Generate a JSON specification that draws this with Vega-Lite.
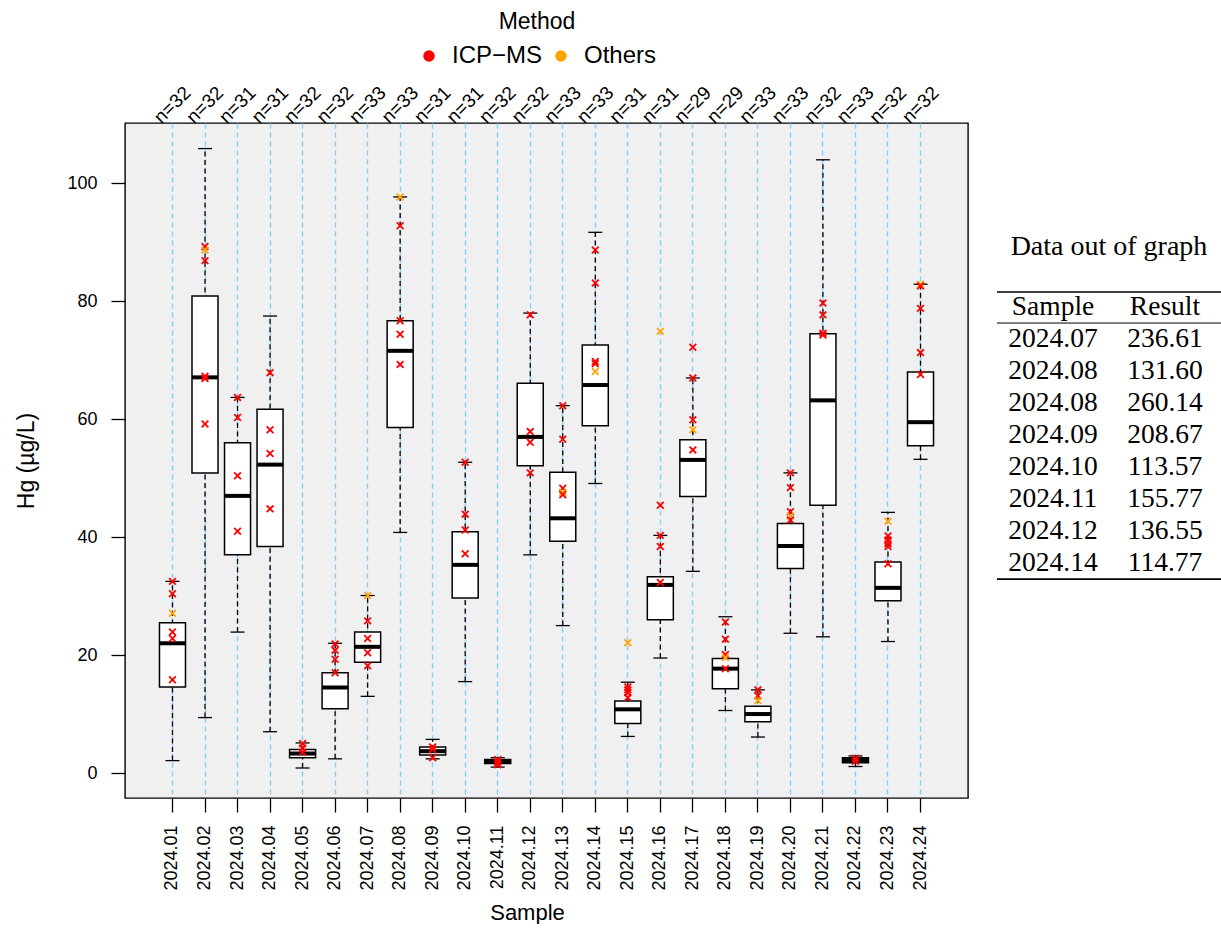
{
  "$schema": "https://vega.github.io/schema/vega-lite/v6.json",
  "background": "white",
  "padding": {"left": 15, "top": 10, "right": 0, "bottom": 0},
  "bounds": "flush",
  "spacing": 29,
  "config": {
    "font": "Liberation Sans",
    "axis": {
      "domain": false,
      "labelColor": "black",
      "titleColor": "black",
      "tickColor": "black",
      "titleFontWeight": "normal",
      "labelFont": "Liberation Sans",
      "titleFont": "Liberation Sans"
    },
    "legend": {
      "orient": "none",
      "legendX": 292,
      "legendY": -112,
      "direction": "horizontal",
      "titleOrient": "top",
      "titleAnchor": "middle",
      "titleFontSize": 23,
      "titleFontWeight": "normal",
      "titleColor": "black",
      "titlePadding": 10,
      "labelFontSize": 24,
      "labelColor": "black",
      "labelOffset": 11,
      "columnPadding": 6,
      "symbolType": "circle"
    }
  },
  "datasets": {
    "boxes": [
      {"sample": "2024.01", "n": 32, "lower": 2.1, "q1": 14.6, "median": 22.0, "q3": 25.5, "upper": 32.5},
      {"sample": "2024.02", "n": 32, "lower": 9.4, "q1": 50.9, "median": 67.1, "q3": 80.9, "upper": 105.9},
      {"sample": "2024.03", "n": 31, "lower": 23.9, "q1": 37.0, "median": 47.0, "q3": 56.0, "upper": 63.7},
      {"sample": "2024.04", "n": 31, "lower": 7.0, "q1": 38.4, "median": 52.3, "q3": 61.7, "upper": 77.5},
      {"sample": "2024.05", "n": 32, "lower": 0.85, "q1": 2.6, "median": 3.3, "q3": 4.0, "upper": 5.1},
      {"sample": "2024.06", "n": 32, "lower": 2.4, "q1": 10.9, "median": 14.5, "q3": 17.0, "upper": 22.0},
      {"sample": "2024.07", "n": 33, "lower": 13.0, "q1": 18.8, "median": 21.4, "q3": 23.9, "upper": 30.1},
      {"sample": "2024.08", "n": 33, "lower": 40.8, "q1": 58.6, "median": 71.6, "q3": 76.7, "upper": 97.7},
      {"sample": "2024.09", "n": 31, "lower": 2.4, "q1": 3.06, "median": 3.7, "q3": 4.4, "upper": 5.7},
      {"sample": "2024.10", "n": 31, "lower": 15.5, "q1": 29.7, "median": 35.3, "q3": 40.9, "upper": 52.7},
      {"sample": "2024.11", "n": 32, "lower": 1.0, "q1": 1.6, "median": 2.0, "q3": 2.3, "upper": 2.6},
      {"sample": "2024.12", "n": 32, "lower": 37.0, "q1": 52.1, "median": 57.0, "q3": 66.1, "upper": 78.0},
      {"sample": "2024.13", "n": 33, "lower": 25.0, "q1": 39.3, "median": 43.2, "q3": 51.0, "upper": 62.3},
      {"sample": "2024.14", "n": 33, "lower": 49.1, "q1": 58.9, "median": 65.8, "q3": 72.6, "upper": 91.7},
      {"sample": "2024.15", "n": 31, "lower": 6.2, "q1": 8.4, "median": 10.8, "q3": 12.2, "upper": 15.4},
      {"sample": "2024.16", "n": 31, "lower": 19.5, "q1": 26.0, "median": 31.9, "q3": 33.3, "upper": 40.3},
      {"sample": "2024.17", "n": 29, "lower": 34.2, "q1": 46.9, "median": 53.1, "q3": 56.5, "upper": 67.0},
      {"sample": "2024.18", "n": 29, "lower": 10.6, "q1": 14.3, "median": 17.7, "q3": 19.4, "upper": 26.5},
      {"sample": "2024.19", "n": 33, "lower": 6.1, "q1": 8.7, "median": 10.0, "q3": 11.3, "upper": 14.1},
      {"sample": "2024.20", "n": 33, "lower": 23.7, "q1": 34.7, "median": 38.5, "q3": 42.3, "upper": 50.9},
      {"sample": "2024.21", "n": 32, "lower": 23.1, "q1": 45.4, "median": 63.2, "q3": 74.5, "upper": 104.0},
      {"sample": "2024.22", "n": 33, "lower": 1.1, "q1": 1.75, "median": 2.2, "q3": 2.6, "upper": 2.9},
      {"sample": "2024.23", "n": 32, "lower": 22.3, "q1": 29.2, "median": 31.4, "q3": 35.8, "upper": 44.2},
      {"sample": "2024.24", "n": 32, "lower": 53.2, "q1": 55.5, "median": 59.5, "q3": 68.0, "upper": 82.9}
    ],
    "results": [
      {"sample": "2024.01", "method": "ICP-MS", "value": 32.5},
      {"sample": "2024.01", "method": "ICP-MS", "value": 30.4},
      {"sample": "2024.01", "method": "Others", "value": 27.1},
      {"sample": "2024.01", "method": "ICP-MS", "value": 23.9},
      {"sample": "2024.01", "method": "ICP-MS", "value": 22.8},
      {"sample": "2024.01", "method": "ICP-MS", "value": 15.8},
      {"sample": "2024.02", "method": "ICP-MS", "value": 89.3},
      {"sample": "2024.02", "method": "Others", "value": 88.7},
      {"sample": "2024.02", "method": "ICP-MS", "value": 86.9},
      {"sample": "2024.02", "method": "ICP-MS", "value": 67.3},
      {"sample": "2024.02", "method": "ICP-MS", "value": 66.9},
      {"sample": "2024.02", "method": "ICP-MS", "value": 59.2},
      {"sample": "2024.03", "method": "ICP-MS", "value": 63.7},
      {"sample": "2024.03", "method": "ICP-MS", "value": 60.3},
      {"sample": "2024.03", "method": "ICP-MS", "value": 50.4},
      {"sample": "2024.03", "method": "ICP-MS", "value": 41.0},
      {"sample": "2024.04", "method": "ICP-MS", "value": 67.9},
      {"sample": "2024.04", "method": "ICP-MS", "value": 58.2},
      {"sample": "2024.04", "method": "ICP-MS", "value": 54.2},
      {"sample": "2024.04", "method": "ICP-MS", "value": 44.8},
      {"sample": "2024.05", "method": "ICP-MS", "value": 5.0},
      {"sample": "2024.05", "method": "ICP-MS", "value": 4.2},
      {"sample": "2024.05", "method": "ICP-MS", "value": 3.5},
      {"sample": "2024.06", "method": "ICP-MS", "value": 21.9},
      {"sample": "2024.06", "method": "ICP-MS", "value": 20.8},
      {"sample": "2024.06", "method": "ICP-MS", "value": 19.3},
      {"sample": "2024.06", "method": "ICP-MS", "value": 17.0},
      {"sample": "2024.07", "method": "Others", "value": 30.1},
      {"sample": "2024.07", "method": "ICP-MS", "value": 25.8},
      {"sample": "2024.07", "method": "ICP-MS", "value": 22.8},
      {"sample": "2024.07", "method": "ICP-MS", "value": 20.4},
      {"sample": "2024.07", "method": "ICP-MS", "value": 18.2},
      {"sample": "2024.08", "method": "Others", "value": 97.7},
      {"sample": "2024.08", "method": "ICP-MS", "value": 92.8},
      {"sample": "2024.08", "method": "ICP-MS", "value": 76.7},
      {"sample": "2024.08", "method": "ICP-MS", "value": 74.4},
      {"sample": "2024.08", "method": "ICP-MS", "value": 69.3},
      {"sample": "2024.09", "method": "ICP-MS", "value": 4.4},
      {"sample": "2024.09", "method": "ICP-MS", "value": 4.0},
      {"sample": "2024.09", "method": "ICP-MS", "value": 2.6},
      {"sample": "2024.10", "method": "ICP-MS", "value": 52.7},
      {"sample": "2024.10", "method": "ICP-MS", "value": 43.9},
      {"sample": "2024.10", "method": "ICP-MS", "value": 41.2},
      {"sample": "2024.10", "method": "ICP-MS", "value": 37.2},
      {"sample": "2024.11", "method": "ICP-MS", "value": 2.3},
      {"sample": "2024.11", "method": "ICP-MS", "value": 1.8},
      {"sample": "2024.11", "method": "ICP-MS", "value": 1.4},
      {"sample": "2024.12", "method": "ICP-MS", "value": 77.7},
      {"sample": "2024.12", "method": "ICP-MS", "value": 57.9},
      {"sample": "2024.12", "method": "ICP-MS", "value": 56.1},
      {"sample": "2024.12", "method": "ICP-MS", "value": 50.9},
      {"sample": "2024.13", "method": "ICP-MS", "value": 62.3},
      {"sample": "2024.13", "method": "ICP-MS", "value": 56.6},
      {"sample": "2024.13", "method": "ICP-MS", "value": 48.3},
      {"sample": "2024.13", "method": "Others", "value": 47.6},
      {"sample": "2024.13", "method": "ICP-MS", "value": 47.2},
      {"sample": "2024.14", "method": "ICP-MS", "value": 88.7},
      {"sample": "2024.14", "method": "ICP-MS", "value": 83.1},
      {"sample": "2024.14", "method": "ICP-MS", "value": 69.8},
      {"sample": "2024.14", "method": "ICP-MS", "value": 69.4},
      {"sample": "2024.14", "method": "Others", "value": 68.1},
      {"sample": "2024.15", "method": "Others", "value": 22.1},
      {"sample": "2024.15", "method": "ICP-MS", "value": 14.6},
      {"sample": "2024.15", "method": "ICP-MS", "value": 14.1},
      {"sample": "2024.15", "method": "ICP-MS", "value": 13.6},
      {"sample": "2024.15", "method": "ICP-MS", "value": 12.8},
      {"sample": "2024.16", "method": "Others", "value": 74.9},
      {"sample": "2024.16", "method": "ICP-MS", "value": 45.4},
      {"sample": "2024.16", "method": "ICP-MS", "value": 40.3},
      {"sample": "2024.16", "method": "ICP-MS", "value": 38.4},
      {"sample": "2024.16", "method": "ICP-MS", "value": 32.3},
      {"sample": "2024.17", "method": "ICP-MS", "value": 72.2},
      {"sample": "2024.17", "method": "ICP-MS", "value": 67.0},
      {"sample": "2024.17", "method": "ICP-MS", "value": 59.9},
      {"sample": "2024.17", "method": "Others", "value": 58.2},
      {"sample": "2024.17", "method": "ICP-MS", "value": 54.8},
      {"sample": "2024.18", "method": "ICP-MS", "value": 25.6},
      {"sample": "2024.18", "method": "ICP-MS", "value": 22.7},
      {"sample": "2024.18", "method": "ICP-MS", "value": 20.1},
      {"sample": "2024.18", "method": "Others", "value": 19.6},
      {"sample": "2024.18", "method": "ICP-MS", "value": 17.7},
      {"sample": "2024.19", "method": "ICP-MS", "value": 14.1},
      {"sample": "2024.19", "method": "ICP-MS", "value": 13.1},
      {"sample": "2024.19", "method": "Others", "value": 12.3},
      {"sample": "2024.20", "method": "ICP-MS", "value": 50.9},
      {"sample": "2024.20", "method": "ICP-MS", "value": 48.4},
      {"sample": "2024.20", "method": "ICP-MS", "value": 44.3},
      {"sample": "2024.20", "method": "Others", "value": 43.6},
      {"sample": "2024.20", "method": "ICP-MS", "value": 42.9},
      {"sample": "2024.21", "method": "ICP-MS", "value": 79.7},
      {"sample": "2024.21", "method": "ICP-MS", "value": 77.7},
      {"sample": "2024.21", "method": "ICP-MS", "value": 74.6},
      {"sample": "2024.21", "method": "ICP-MS", "value": 74.3},
      {"sample": "2024.22", "method": "ICP-MS", "value": 2.5},
      {"sample": "2024.22", "method": "ICP-MS", "value": 2.0},
      {"sample": "2024.23", "method": "Others", "value": 42.7},
      {"sample": "2024.23", "method": "ICP-MS", "value": 40.2},
      {"sample": "2024.23", "method": "ICP-MS", "value": 39.5},
      {"sample": "2024.23", "method": "ICP-MS", "value": 38.9},
      {"sample": "2024.23", "method": "ICP-MS", "value": 38.4},
      {"sample": "2024.23", "method": "ICP-MS", "value": 35.5},
      {"sample": "2024.24", "method": "Others", "value": 82.9},
      {"sample": "2024.24", "method": "ICP-MS", "value": 82.6},
      {"sample": "2024.24", "method": "ICP-MS", "value": 78.8},
      {"sample": "2024.24", "method": "ICP-MS", "value": 71.3},
      {"sample": "2024.24", "method": "ICP-MS", "value": 67.6}
    ],
    "outOfGraph": [
      {"sample": "2024.07", "result": 236.61},
      {"sample": "2024.08", "result": 131.60},
      {"sample": "2024.08", "result": 260.14},
      {"sample": "2024.09", "result": 208.67},
      {"sample": "2024.10", "result": 113.57},
      {"sample": "2024.11", "result": 155.77},
      {"sample": "2024.12", "result": 136.55},
      {"sample": "2024.14", "result": 114.77}
    ]
  },
  "hconcat": [
    {
      "width": 843,
      "height": 675,
      "view": {"fill": "#F0F0F0", "stroke": "black", "strokeWidth": 1.4},
      "data": {"name": "boxes"},
      "encoding": {
        "x": {
          "field": "sample",
          "type": "nominal",
          "sort": null,
          "title": "Sample",
          "scale": {"paddingInner": 0, "paddingOuter": 0.96},
          "axis": {
            "labelAngle": -90,
            "labelFontSize": 18,
            "tickSize": 14,
            "tickWidth": 1.3,
            "labelPadding": 13,
            "titleFontSize": 22,
            "titlePadding": 12,
            "titleX": 402,
            "grid": true,
            "gridColor": "#87CEFA",
            "gridDash": [5, 4],
            "gridWidth": 1.4
          }
        }
      },
      "layer": [
        {
          "mark": {"type": "rule", "color": "black", "strokeWidth": 1.3, "strokeDash": [5, 3.5], "opacity": 1},
          "encoding": {
            "y": {
              "field": "lower",
              "type": "quantitative",
              "title": "Hg (µg/L)",
              "scale": {"domain": [-4.24, 110.24], "nice": false, "zero": false},
              "axis": {
                "values": [0, 20, 40, 60, 80, 100],
                "labelFontSize": 18,
                "tickSize": 14,
                "tickWidth": 1.3,
                "labelPadding": 14,
                "titleFontSize": 23,
                "titlePadding": 28,
                "grid": false
              }
            },
            "y2": {"field": "upper"}
          }
        },
        {
          "mark": {"type": "tick", "color": "black", "size": 14, "thickness": 1.3, "opacity": 1},
          "encoding": {"y": {"field": "lower", "type": "quantitative", "title": "Hg (µg/L)"}}
        },
        {
          "mark": {"type": "tick", "color": "black", "size": 14, "thickness": 1.3, "opacity": 1},
          "encoding": {"y": {"field": "upper", "type": "quantitative", "title": "Hg (µg/L)"}}
        },
        {
          "mark": {"type": "bar", "fill": "white", "stroke": "black", "strokeWidth": 1.5, "width": {"band": 0.8}, "opacity": 1},
          "encoding": {
            "y": {"field": "q1", "type": "quantitative", "title": "Hg (µg/L)"},
            "y2": {"field": "q3"}
          }
        },
        {
          "mark": {"type": "tick", "color": "black", "size": 26, "thickness": 4, "opacity": 1},
          "encoding": {"y": {"field": "median", "type": "quantitative", "title": "Hg (µg/L)"}}
        },
        {
          "data": {"name": "results"},
          "mark": {"type": "point", "shape": "M-1,-1L1,1M-1,1L1,-1", "size": 45, "strokeWidth": 1.8, "filled": true, "opacity": 1},
          "encoding": {
            "y": {"field": "value", "type": "quantitative", "title": "Hg (µg/L)"},
            "color": {
              "field": "method",
              "type": "nominal",
              "title": "Method",
              "scale": {"domain": ["ICP-MS", "Others"], "range": ["#FF0000", "#FFA500"]},
              "legend": {"labelExpr": "replace(datum.label, '-', '−')"}
            },
            "stroke": {
              "field": "method",
              "type": "nominal",
              "title": "Method",
              "scale": {"domain": ["ICP-MS", "Others"], "range": ["#FF0000", "#FFA500"]},
              "legend": {"labelExpr": "replace(datum.label, '-', '−')"}
            }
          }
        },
        {
          "mark": {
            "type": "text",
            "angle": -45,
            "align": "center",
            "baseline": "middle",
            "dx": 12.7,
            "dy": -12.7,
            "fontSize": 19,
            "color": "black",
            "text": {"expr": "'n=' + datum.n"}
          },
          "encoding": {"y": {"datum": 110.24, "type": "quantitative", "title": "Hg (µg/L)"}}
        }
      ]
    },
    {
      "width": 224,
      "height": 675,
      "view": {"stroke": null, "fill": null},
      "layer": [
        {
          "data": {"values": [{"caption": "Data out of graph"}]},
          "mark": {"type": "text", "font": "Liberation Serif", "fontSize": 28, "color": "black"},
          "encoding": {
            "text": {"field": "caption"},
            "y": {
              "datum": -1.875,
              "type": "quantitative",
              "scale": {"domain": [-5.75, 15.34], "reverse": true, "nice": false, "zero": false},
              "axis": null
            }
          }
        },
        {
          "data": {"values": [{}]},
          "mark": {"type": "rule", "color": "black", "strokeWidth": 1.6},
          "encoding": {"y": {"datum": -0.47, "type": "quantitative"}}
        },
        {
          "data": {"values": [{}]},
          "mark": {"type": "rule", "color": "black", "strokeWidth": 1},
          "encoding": {"y": {"datum": 0.5, "type": "quantitative"}}
        },
        {
          "data": {"values": [{}]},
          "mark": {"type": "rule", "color": "black", "strokeWidth": 1.6},
          "encoding": {"y": {"datum": 8.5, "type": "quantitative"}}
        },
        {
          "data": {"values": [{"col": "Sample"}, {"col": "Result"}]},
          "mark": {"type": "text", "font": "Liberation Serif", "fontSize": 27.5, "color": "black"},
          "encoding": {
            "x": {"field": "col", "type": "nominal", "sort": null, "scale": {"type": "point", "domain": ["Sample", "Result"], "padding": 0.5}, "axis": null},
            "y": {"datum": 0, "type": "quantitative"},
            "text": {"field": "col"}
          }
        },
        {
          "data": {"name": "outOfGraph"},
          "transform": [{"window": [{"op": "row_number", "as": "row"}]}],
          "layer": [
            {
              "mark": {"type": "text", "font": "Liberation Serif", "fontSize": 27.5, "color": "black"},
              "encoding": {
                "x": {"datum": "Sample", "type": "nominal"},
                "y": {"field": "row", "type": "quantitative"},
                "text": {"field": "sample"}
              }
            },
            {
              "mark": {"type": "text", "font": "Liberation Serif", "fontSize": 27.5, "color": "black"},
              "encoding": {
                "x": {"datum": "Result", "type": "nominal"},
                "y": {"field": "row", "type": "quantitative"},
                "text": {"field": "result", "format": ".2f"}
              }
            }
          ]
        }
      ]
    }
  ],
  "resolve": {"scale": {"x": "independent", "y": "independent", "color": "independent", "stroke": "independent"}, "legend": {"color": "independent", "stroke": "independent"}}
}
